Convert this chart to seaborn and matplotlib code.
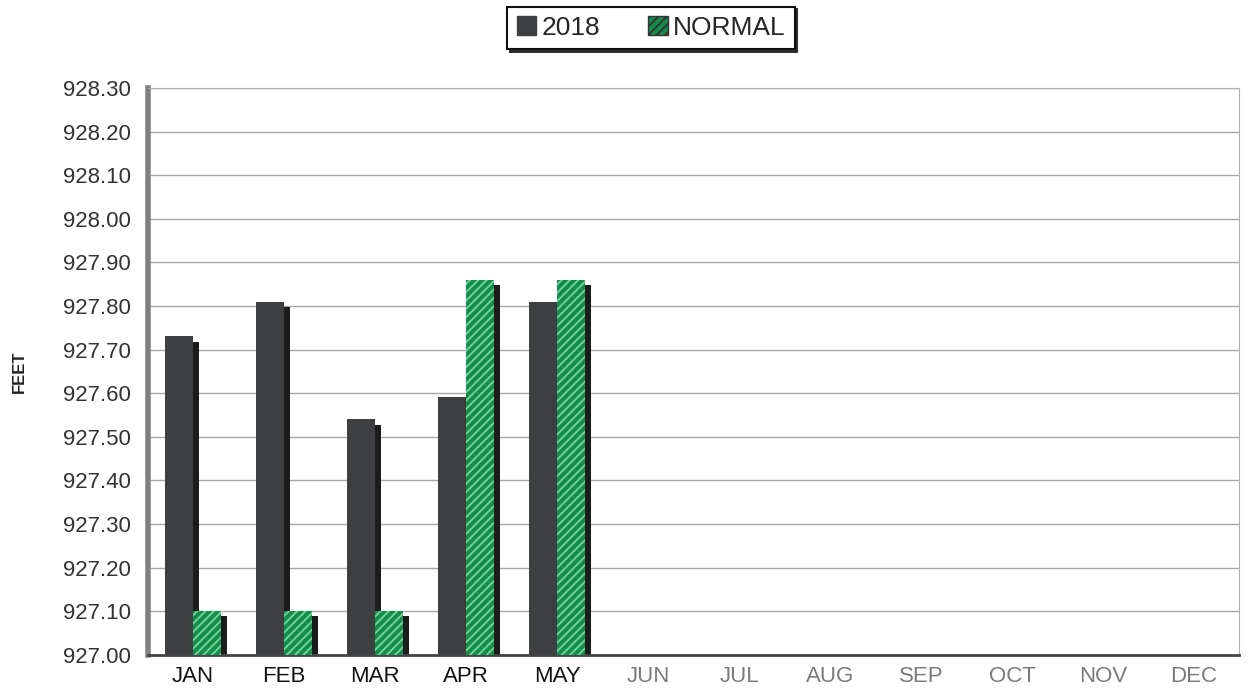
import numpy as np
import pandas as pd
import matplotlib
matplotlib.use("Agg")
import matplotlib.pyplot as plt
from matplotlib.patches import Patch, Rectangle
from matplotlib.ticker import FixedLocator
import seaborn as sns

months = ["JAN", "FEB", "MAR", "APR", "MAY", "JUN", "JUL", "AUG", "SEP", "OCT", "NOV", "DEC"]
level_2018 = [927.73, 927.81, 927.54, 927.59, 927.81, np.nan, np.nan, np.nan, np.nan, np.nan, np.nan, np.nan]
level_normal = [927.10, 927.10, 927.10, 927.86, 927.86, np.nan, np.nan, np.nan, np.nan, np.nan, np.nan, np.nan]
series = ["2018", "NORMAL"]
y_min, y_max = 927.00, 928.30

df = pd.DataFrame({
    "month": months * 2,
    "series": ["2018"] * len(months) + ["NORMAL"] * len(months),
    "feet": level_2018 + level_normal,
})
df["height"] = df["feet"] - y_min

sns.set_style("white")
plt.rcParams["font.family"] = ["Liberation Sans", "DejaVu Sans"]
plt.rcParams["hatch.linewidth"] = 1.4

fig = plt.figure(figsize=(12.52, 6.98), dpi=100)
ax = fig.add_axes([0.118, 0.062, 0.872, 0.812])

sns.barplot(data=df, x="month", y="height", hue="series", hue_order=series,
            palette={"2018": "#3d3f40", "NORMAL": "#148c4a"},
            width=0.62, gap=0, saturation=1, legend=False, ax=ax, zorder=3,
            linewidth=0)

n = len(months)
dx, dy = 0.06, 0.012
for k, cont in enumerate(ax.containers):
    for p in cont.patches:
        h = p.get_height()
        if not np.isfinite(h) or h == 0:
            continue
        # drop shadow behind each bar
        sh = Rectangle((p.get_x() + dx, 0), p.get_width(), h - dy,
                       facecolor="#1c1c1c", edgecolor="none", zorder=2.5)
        ax.add_patch(sh)
        p.set_linewidth(0)
        if k == 1:
            p.set_hatch("////")
            p.set_edgecolor("#6fd398")

ax.set_ylim(0, y_max - y_min)
ax.set_xlim(-0.5, n - 0.5)
ticks = np.arange(0, 1.31, 0.1)
ax.set_yticks(ticks)
ax.set_yticklabels([f"{y_min + v:.2f}" for v in ticks], fontsize=16, color="#333333")
ax.grid(axis="y", color="#a8a8a8", linewidth=1.0, zorder=0)
ax.set_axisbelow(True)

ax.set_xticks(range(n))
ax.set_xticklabels(months, fontsize=16)
for i, lab in enumerate(ax.get_xticklabels()):
    lab.set_color("#111111" if i < 5 else "#7a7a7a")
ax.xaxis.set_minor_locator(FixedLocator(np.arange(-0.5, n, 1)))
ax.tick_params(axis="x", which="major", length=0, pad=8)
ax.tick_params(axis="x", which="minor", length=5, color="#999999", direction="out")
ax.tick_params(axis="y", length=6, color="#777777", direction="out", pad=6)

ax.set_xlabel("")
ax.set_ylabel("FEET", fontsize=12, fontweight="bold", labelpad=26, color="#222222")

ax.spines["left"].set_color("#808080")
ax.spines["left"].set_linewidth(4)
ax.spines["bottom"].set_color("#444444")
ax.spines["bottom"].set_linewidth(2)
ax.spines["top"].set_color("#b0b0b0")
ax.spines["right"].set_color("#b0b0b0")

handles = [Patch(facecolor="#3d3f40", edgecolor="#3d3f40"),
           Patch(facecolor="#148c4a", edgecolor="#333333", hatch="////")]
leg = fig.legend(handles, series, loc="upper center", bbox_to_anchor=(0.52, 0.998), ncol=2,
                 fontsize=19, frameon=True, fancybox=False, shadow={"color": "#222222", "alpha": 0.9},
                 handlelength=0.75, handleheight=0.75, handletextpad=0.2, columnspacing=1.8,
                 borderpad=0.35, borderaxespad=0.2)
leg.get_frame().set_edgecolor("#111111")
leg.get_frame().set_linewidth(1.5)

fig.savefig("out.png", dpi=100, facecolor="white")
